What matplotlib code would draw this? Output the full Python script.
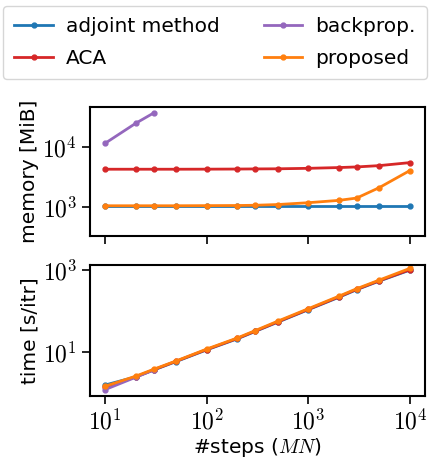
import matplotlib
matplotlib.use("Agg")
import numpy as np
import matplotlib.pyplot as plt
from matplotlib.ticker import NullLocator, FuncFormatter

plt.rcParams["mathtext.fontset"] = "cm"
plt.rcParams["font.family"] = ["DejaVu Sans"]
plt.rcParams["font.size"] = 14

steps = [10, 20, 30, 50, 100, 200, 300, 500, 1000, 2000, 3000, 5000, 10000]
steps_bp = [10, 20, 30]

mem_adjoint = [1050, 1050, 1050, 1050, 1050, 1050, 1050, 1050, 1050, 1050, 1050, 1050, 1050]
mem_aca = [4250, 4250, 4250, 4250, 4260, 4280, 4300, 4320, 4400, 4530, 4640, 4880, 5470]
mem_backprop = [11500, 24700, 36600]
mem_proposed = [1050, 1050, 1050, 1050, 1055, 1060, 1070, 1100, 1180, 1290, 1410, 2100, 4030]

time_adjoint = [1.55, 2.45, 3.6, 5.8, 11.2, 20.8, 31.5, 53, 107, 215, 330, 535, 990]
time_aca = [1.35, 2.45, 3.65, 5.9, 11.4, 21.2, 32, 54, 109, 220, 336, 545, 1010]
time_backprop = [1.2, 2.4, 3.6]
time_proposed = [1.45, 2.55, 3.75, 6.0, 11.7, 21.8, 33, 56, 113, 228, 348, 565, 1090]

series = [
    ("adjoint method", "tab:blue", steps, mem_adjoint, time_adjoint),
    ("ACA", "tab:red", steps, mem_aca, time_aca),
    ("backprop.", "tab:purple", steps_bp, mem_backprop, time_backprop),
    ("proposed", "tab:orange", steps, mem_proposed, time_proposed),
]


def pow10(v, pos):
    return r"$10^{%d}$" % int(round(np.log10(v)))


fig = plt.figure(figsize=(4.3, 4.62), dpi=100)
ax_mem = fig.add_axes([90 / 430, 1 - 236 / 462, 335 / 430, 129 / 462])
ax_time = fig.add_axes([90 / 430, 1 - 396 / 462, 335 / 430, 131 / 462], sharex=ax_mem)

for name, color, x, mem, tm in series:
    ax_mem.plot(x, mem, ".-", color=color, label=name, lw=2, ms=7)
    ax_time.plot(x, tm, ".-", color=color, lw=2, ms=7)

for ax in (ax_mem, ax_time):
    ax.set_xscale("log")
    ax.set_yscale("log")
    ax.xaxis.set_minor_locator(NullLocator())
    ax.yaxis.set_minor_locator(NullLocator())
    ax.xaxis.set_major_formatter(FuncFormatter(pow10))
    ax.yaxis.set_major_formatter(FuncFormatter(pow10))
    ax.tick_params(length=6, width=1.2, labelsize=17)
    for sp in ax.spines.values():
        sp.set_linewidth(1.5)

ax_mem.set_ylim(330, 46000)
ax_time.set_ylim(0.835, 1320)
ax_mem.tick_params(labelbottom=False)

ax_mem.set_ylabel("memory [MiB]", fontsize=14.5, labelpad=2)
ax_time.set_ylabel("time [s/itr]", fontsize=14.5, labelpad=2)
ax_time.set_xlabel("#steps ($MN$)", fontsize=14.5, labelpad=1)

handles, labels = ax_mem.get_legend_handles_labels()
fig.legend(handles, labels, loc="upper center", ncol=2,
           bbox_to_anchor=(0.5, 1 - 6 / 462),
           fontsize=14.5, handlelength=1.9, handletextpad=0.65, borderaxespad=0,
           labelspacing=0.65, columnspacing=2.2, borderpad=0.55)

fig.savefig("out.png", dpi=100)
